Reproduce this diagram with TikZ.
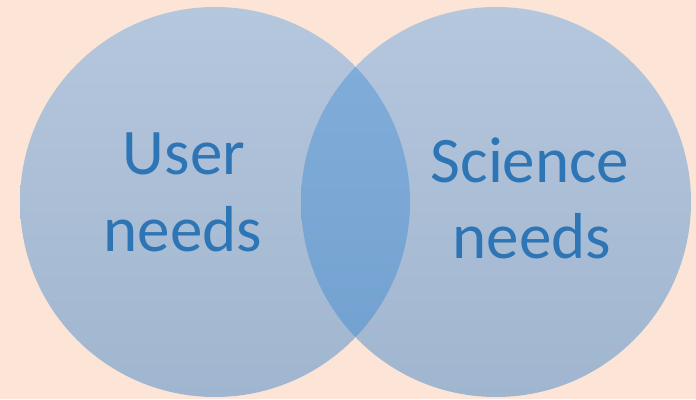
\documentclass[tikz,border=0pt]{standalone}
\usepackage{fontspec}
\setmainfont{Carlito}
\usepackage{tikz}
\usetikzlibrary{positioning}
\definecolor{peach}{HTML}{FCE5D6}
\definecolor{circtop}{HTML}{B5C7DD}
\definecolor{circbot}{HTML}{A0B5CF}
\definecolor{lenstop}{HTML}{82AEDB}
\definecolor{lensbot}{HTML}{72A0CE}
\definecolor{txtblue}{HTML}{2E75B6}

\begin{document}
\begin{tikzpicture}[x=1pt, y=1pt,
    every node/.style={inner sep=0pt, text=txtblue, font=\fontsize{65}{77}\selectfont},
    set/.style={top color=circtop, bottom color=circbot, draw=none}]

    % background
    \fill[peach] (0,0) rectangle (696,399);
    \useasboundingbox (0,0) rectangle (696,399);

    % the two sets
    \shade[set] (215,197) circle (195);
    \shade[set] (496,197) circle (195);

    % overlap
    \begin{scope}
        \clip (215,197) circle (195);
        \shade[top color=lenstop, bottom color=lensbot] (496,197) circle (195);
    \end{scope}

    % labels
    \node[anchor=base] (user) at (184,224) {User};
    \node[anchor=base] (userneeds) at (183,147) {needs};
    \node[anchor=base] (science) at (530,216) {Science};
    \node[anchor=base] (scienceneeds) at (532,140) {needs};
\end{tikzpicture}
\end{document}
